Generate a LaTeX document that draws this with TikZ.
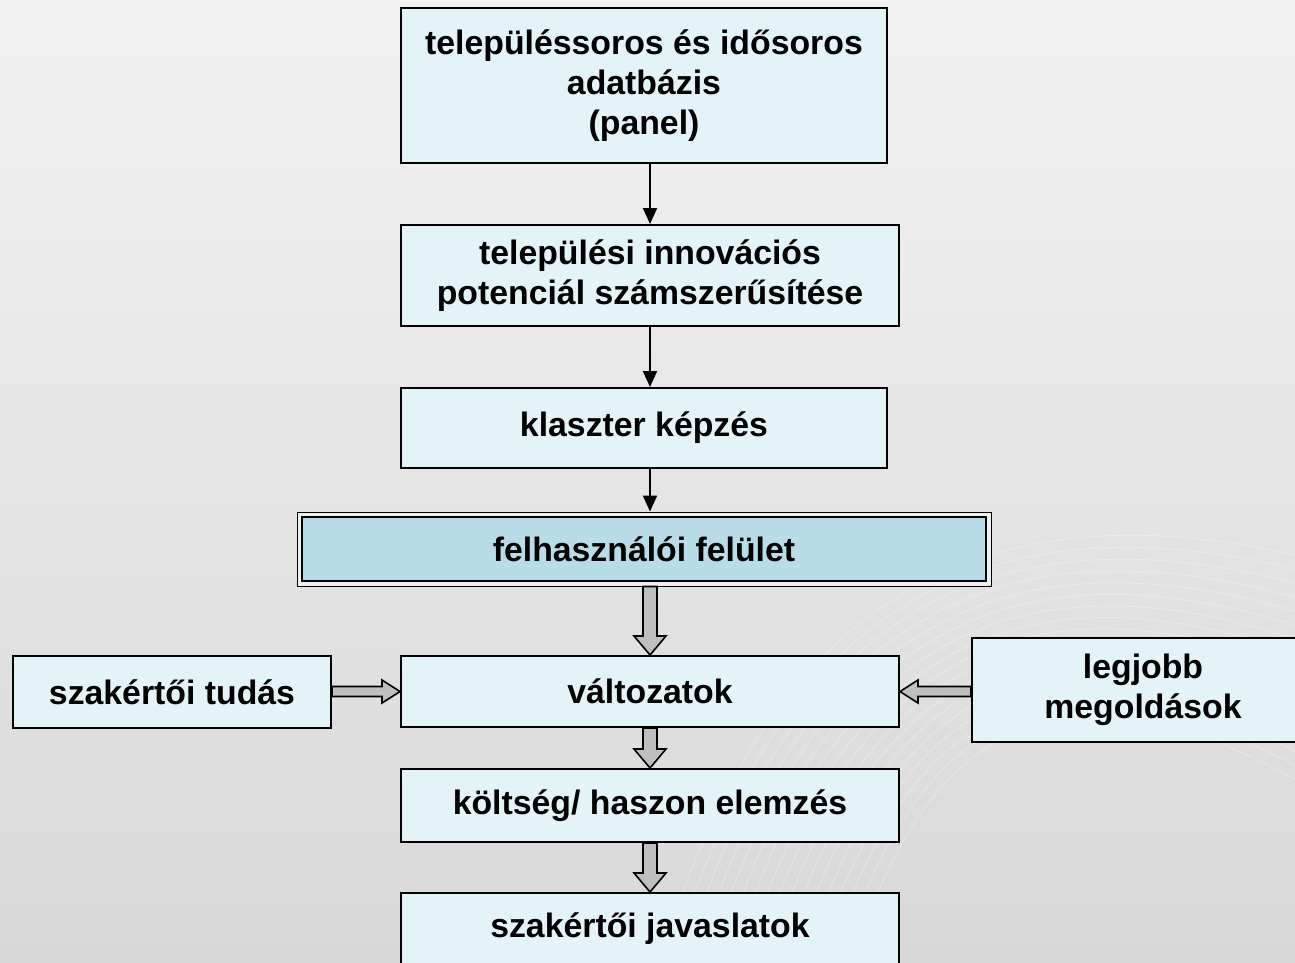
\documentclass[tikz,border=0pt]{standalone}
\usepackage{fontspec}
\setmainfont{Liberation Sans}
\usetikzlibrary{arrows.meta,calc}
\definecolor{boxfill}{HTML}{E4F3F8}
\definecolor{hlfill}{HTML}{B8DDE8}
\definecolor{arrowgray}{HTML}{BFBFBF}
\definecolor{bgtop}{HTML}{F2F2F2}
\definecolor{bgbot}{HTML}{D8D8D8}
\newcommand\blkdown[2]{\draw[blk] let \p1=(#1.south), \p2=(#2.north) in
  (\x2-7pt,\y1) -- (\x2-7pt,\y2+19pt) -- (\x2-16pt,\y2+19pt) -- (\x2,\y2) --
  (\x2+16pt,\y2+19pt) -- (\x2+7pt,\y2+19pt) -- (\x2+7pt,\y1) -- cycle;}
\newcommand\blkright[2]{\draw[blk] let \p1=(#1.east), \p2=(#2.west) in
  (\x1,\y2+5pt) -- (\x2-18pt,\y2+5pt) -- (\x2-18pt,\y2+11.5pt) -- (\x2,\y2) --
  (\x2-18pt,\y2-11.5pt) -- (\x2-18pt,\y2-5pt) -- (\x1,\y2-5pt) -- cycle;}
\newcommand\blkleft[2]{\draw[blk] let \p1=(#1.west), \p2=(#2.east) in
  (\x1,\y2+5pt) -- (\x2+18pt,\y2+5pt) -- (\x2+18pt,\y2+11.5pt) -- (\x2,\y2) --
  (\x2+18pt,\y2-11.5pt) -- (\x2+18pt,\y2-5pt) -- (\x1,\y2-5pt) -- cycle;}
\begin{document}
\begin{tikzpicture}[x=1pt,y=-1pt,
  box/.style={draw=black, line width=2pt, fill=boxfill, inner sep=0pt, align=center,
    font=\fontsize{33.8}{40}\selectfont\bfseries},
  thinarr/.style={draw=black, line width=2pt, -{Triangle[length=16pt,width=14pt]}},
  blk/.style={draw=black, line width=1.6pt, fill=arrowgray, line join=miter},
  bgcurve/.style={draw=white, opacity=0.35, line width=0.7pt}]
\useasboundingbox (0,0) rectangle (1295,962);
\shade[top color=bgtop, bottom color=bgbot] (0,0) rectangle (1295,962);
\foreach \i in {0,...,16}{
  \draw[bgcurve] ({660+12*\i},962) .. controls ({760+10*\i},{620+8*\i}) and ({960+5*\i},{480+10*\i}) .. (1295,{555+14*\i});
}
\node[box, minimum width=486pt, minimum height=155pt] (db) at (644,85.5)
  {településsoros és idősoros\\adatbázis\\(panel)};
\node[box, minimum width=498pt, minimum height=101pt] (inn) at (650,275.5)
  {települési innovációs\\potenciál számszerűsítése};
\node[box, minimum width=486pt, minimum height=80pt] (kl) at (644,428)
  {klaszter képzés};
\node[draw=black, line width=1pt, fill=gray!12, inner sep=0pt,
  minimum width=694pt, minimum height=74pt] (felhout) at (644,549) {};
\node[box, fill=hlfill, minimum width=684pt, minimum height=64pt] (felh) at (644,549)
  {felhasználói felület};
\node[box, minimum width=498pt, minimum height=71pt] (valt) at (650,691.5)
  {változatok};
\node[box, minimum width=318pt, minimum height=72pt] (szt) at (172,692)
  {szakértői tudás};
\node[box, minimum width=342pt, minimum height=104pt] (lj) at (1143,690)
  {legjobb\\megoldások};
\node[box, minimum width=498pt, minimum height=73pt] (kh) at (650,805.5)
  {költség/ haszon elemzés};
\node[box, minimum width=498pt, minimum height=72pt] (jav) at (650,929)
  {szakértői javaslatok};
\draw[thinarr] (db.south -| inn.north) -- (inn.north);
\draw[thinarr] (inn.south) -- (inn.south |- kl.north);
\draw[thinarr] (kl.south -| inn.south) -- (felhout.north -| inn.south);
\blkdown{felhout}{valt}
\blkdown{valt}{kh}
\blkdown{kh}{jav}
\blkright{szt}{valt}
\blkleft{lj}{valt}
\end{tikzpicture}
\end{document}
